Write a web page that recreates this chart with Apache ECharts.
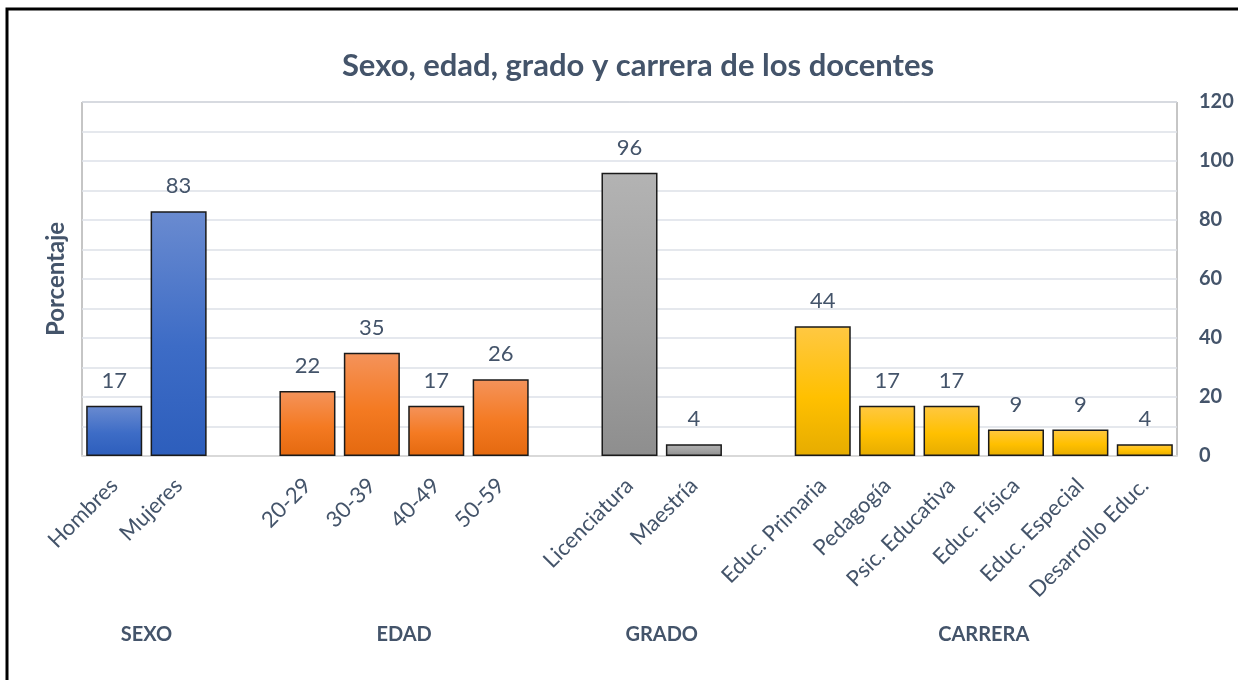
<!DOCTYPE html>
<html>
<head>
<meta charset="utf-8">
<script src="https://cdn.jsdelivr.net/npm/echarts@6/dist/echarts.min.js"></script>
<style>
html,body{margin:0;padding:0;background:#fff;}
#chart{width:1238px;height:680px;}
</style>
</head>
<body>
<div id="chart"></div>
<script>
// ---- Data ----
const groupNames = ['SEXO', 'EDAD', 'GRADO', 'CARRERA'];
const sexoCats = ['Hombres', 'Mujeres'];
const sexoVals = [17, 83];
const edadCats = ['20-29', '30-39', '40-49', '50-59'];
const edadVals = [22, 35, 17, 26];
const gradoCats = ['Licenciatura', 'Maestría'];
const gradoVals = [96, 4];
const carreraCats = ['Educ. Primaria', 'Pedagogía', 'Psic. Educativa', 'Educ. Física', 'Educ. Especial', 'Desarrollo Educ.'];
const carreraVals = [44, 17, 17, 9, 9, 4];
const yTicks = { min: 0, max: 120, interval: 20 };

// ---- Styles ----
const TXT = '#44546a';
const FONT = 'Lato, "Open Sans", sans-serif';
const palettes = [
  ['#6a8bd0', '#3d6cc6', '#2d5ebc'],
  ['#f4935b', '#f47a22', '#e4690f'],
  ['#b3b3b3', '#a1a1a1', '#8e8e8e'],
  ['#ffc843', '#ffc000', '#e6ac00']
];
function grad(p) {
  return new echarts.graphic.LinearGradient(0, 0, 0, 1, [
    { offset: 0, color: p[0] }, { offset: 0.55, color: p[1] }, { offset: 1, color: p[2] }
  ]);
}

const groupCats = [sexoCats, edadCats, gradoCats, carreraCats];
const groupVals = [sexoVals, edadVals, gradoVals, carreraVals];
const categories = [];
const seriesData = [];
const groupCenters = {};
groupCats.forEach((cats, g) => {
  if (g > 0) { categories.push(''); seriesData.push('-'); }
  const start = categories.length;
  cats.forEach((c, i) => {
    categories.push(c);
    seriesData.push({ value: groupVals[g][i], itemStyle: { color: grad(palettes[g]) } });
  });
  groupCenters[start + (cats.length - 1) / 2] = groupNames[g];
});

const chart = echarts.init(document.getElementById('chart'), null, { renderer: 'canvas' });
chart.setOption({
  animation: false,
  backgroundColor: '#fff',
  title: {
    text: 'Sexo, edad, grado y carrera de los docentes',
    left: 633, textAlign: 'center', top: 45,
    textStyle: { fontFamily: FONT, fontSize: 31, fontWeight: 'bold', color: TXT }
  },
  graphic: [{
    type: 'rect', shape: { x: 7, y: 9, width: 1300, height: 720 },
    style: { fill: 'none', stroke: '#000', lineWidth: 3 }, silent: true
  }],
  grid: { left: 82, right: 61, top: 102, bottom: 224, show: true, borderColor: '#8c8c8c', borderWidth: 1 },
  xAxis: [{
    type: 'category', data: categories,
    axisLine: { lineStyle: { color: '#d9d9d9', width: 2 } },
    axisTick: { show: false },
    axisLabel: { interval: 0, rotate: 45, margin: 26, fontFamily: FONT, fontSize: 22, color: TXT }
  }, {
    type: 'value', position: 'bottom', offset: 169,
    min: -0.5, max: categories.length - 0.5,
    axisLine: { show: false }, axisTick: { show: false }, splitLine: { show: false },
    axisLabel: {
      customValues: Object.keys(groupCenters).map(Number),
      formatter: v => groupCenters[v] || '',
      fontFamily: FONT, fontSize: 20, fontWeight: 'bold', color: TXT, margin: 0
    }
  }],
  yAxis: [{
    type: 'value', position: 'right', min: yTicks.min, max: yTicks.max, interval: yTicks.interval,
    axisLine: { show: false }, axisTick: { show: false },
    axisLabel: { margin: 22, align: 'left', fontFamily: FONT, fontSize: 20, fontWeight: 'bold', color: TXT },
    splitLine: { lineStyle: { color: '#dde1e8', width: 1.5 } },
    minorTick: { show: false, splitNumber: 2 },
    minorSplitLine: { show: true, lineStyle: { color: '#dde1e8', width: 1.5 } }
  }, {
    type: 'value', position: 'left', min: yTicks.min, max: yTicks.max,
    name: 'Porcentaje', nameLocation: 'middle', nameGap: 14,
    nameTextStyle: { fontFamily: FONT, fontSize: 24, fontWeight: 'bold', color: TXT },
    axisLine: { show: false }, axisTick: { show: false }, axisLabel: { show: false }, splitLine: { show: false }
  }],
  series: [{
    type: 'bar', xAxisIndex: 0, yAxisIndex: 0,
    data: seriesData,
    barWidth: '87%',
    itemStyle: { borderColor: '#1a1a1a', borderWidth: 1.5 },
    label: { show: true, position: 'top', distance: 14, fontFamily: FONT, fontSize: 22, color: TXT }
  }]
});
</script>
</body>
</html>
